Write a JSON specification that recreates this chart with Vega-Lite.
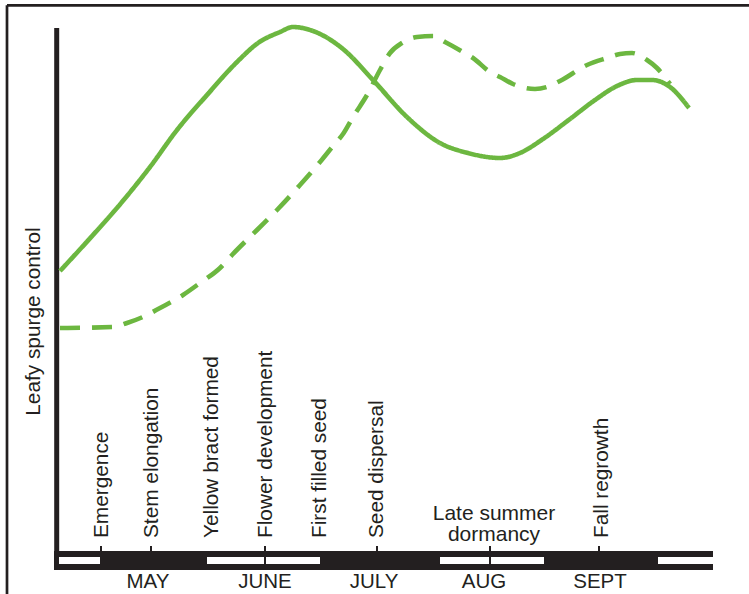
{
  "$schema": "https://vega.github.io/schema/vega-lite/v6.json",
  "width": 749,
  "height": 594,
  "padding": 0,
  "autosize": {"type": "none"},
  "background": "white",
  "config": {"view": {"stroke": null}},
  "datasets": {
    "frame": [
      {"x": 7, "y": 5.3, "x2": 760, "y2": 5.3},
      {"x": 7, "y": 5.3, "x2": 7, "y2": 600}
    ],
    "axisline": [
      {"x": 56.7, "y": 28, "x2": 56.7, "y2": 570}
    ],
    "bandBlack": [
      {"x": 54, "x2": 713, "y": 551, "y2": 570}
    ],
    "bandWhite": [
      {"x": 59, "x2": 101, "y": 557, "y2": 564},
      {"x": 207, "x2": 320, "y": 557, "y2": 564},
      {"x": 440, "x2": 544, "y": 557, "y2": 564},
      {"x": 658, "x2": 725, "y": 557, "y2": 564}
    ],
    "ticks": [
      {"x": 101, "y": 546, "y2": 564},
      {"x": 151, "y": 546, "y2": 564},
      {"x": 265, "y": 546, "y2": 564},
      {"x": 377, "y": 546, "y2": 564},
      {"x": 490, "y": 546, "y2": 564},
      {"x": 599, "y": 546, "y2": 564}
    ],
    "curves": [
      {"curve": "solid", "x": 60, "y": 271},
      {"curve": "solid", "x": 93, "y": 235},
      {"curve": "solid", "x": 122, "y": 202},
      {"curve": "solid", "x": 150, "y": 167},
      {"curve": "solid", "x": 177, "y": 130},
      {"curve": "solid", "x": 207, "y": 95},
      {"curve": "solid", "x": 237, "y": 62},
      {"curve": "solid", "x": 258, "y": 43},
      {"curve": "solid", "x": 280, "y": 32},
      {"curve": "solid", "x": 293, "y": 27},
      {"curve": "solid", "x": 313, "y": 31},
      {"curve": "solid", "x": 343, "y": 49},
      {"curve": "solid", "x": 373, "y": 80},
      {"curve": "solid", "x": 408, "y": 118},
      {"curve": "solid", "x": 440, "y": 143},
      {"curve": "solid", "x": 468, "y": 153},
      {"curve": "solid", "x": 500, "y": 158},
      {"curve": "solid", "x": 520, "y": 153},
      {"curve": "solid", "x": 543, "y": 139},
      {"curve": "solid", "x": 570, "y": 119},
      {"curve": "solid", "x": 595, "y": 100},
      {"curve": "solid", "x": 617, "y": 86},
      {"curve": "solid", "x": 637, "y": 80},
      {"curve": "solid", "x": 652, "y": 80},
      {"curve": "solid", "x": 670, "y": 87},
      {"curve": "solid", "x": 689, "y": 108},
      {"curve": "dashed", "x": 60, "y": 328},
      {"curve": "dashed", "x": 113, "y": 327},
      {"curve": "dashed", "x": 127, "y": 323},
      {"curve": "dashed", "x": 145, "y": 316},
      {"curve": "dashed", "x": 160, "y": 308},
      {"curve": "dashed", "x": 183, "y": 295},
      {"curve": "dashed", "x": 200, "y": 283},
      {"curve": "dashed", "x": 220, "y": 268},
      {"curve": "dashed", "x": 232, "y": 255},
      {"curve": "dashed", "x": 257, "y": 230},
      {"curve": "dashed", "x": 277, "y": 210},
      {"curve": "dashed", "x": 300, "y": 185},
      {"curve": "dashed", "x": 320, "y": 162},
      {"curve": "dashed", "x": 333, "y": 146},
      {"curve": "dashed", "x": 343, "y": 134},
      {"curve": "dashed", "x": 353, "y": 117},
      {"curve": "dashed", "x": 367, "y": 95},
      {"curve": "dashed", "x": 380, "y": 70},
      {"curve": "dashed", "x": 390, "y": 53},
      {"curve": "dashed", "x": 402, "y": 43},
      {"curve": "dashed", "x": 417, "y": 37},
      {"curve": "dashed", "x": 433, "y": 36},
      {"curve": "dashed", "x": 445, "y": 42},
      {"curve": "dashed", "x": 463, "y": 52},
      {"curve": "dashed", "x": 473, "y": 58},
      {"curve": "dashed", "x": 490, "y": 72},
      {"curve": "dashed", "x": 500, "y": 77},
      {"curve": "dashed", "x": 513, "y": 84},
      {"curve": "dashed", "x": 535, "y": 89},
      {"curve": "dashed", "x": 547, "y": 87},
      {"curve": "dashed", "x": 560, "y": 81},
      {"curve": "dashed", "x": 587, "y": 65},
      {"curve": "dashed", "x": 607, "y": 58},
      {"curve": "dashed", "x": 620, "y": 54},
      {"curve": "dashed", "x": 632, "y": 53},
      {"curve": "dashed", "x": 647, "y": 60},
      {"curve": "dashed", "x": 657, "y": 68},
      {"curve": "dashed", "x": 670, "y": 84}
    ],
    "stages": [
      {"label": "Emergence", "x": 102, "y": 538},
      {"label": "Stem elongation", "x": 152, "y": 538},
      {"label": "Yellow bract formed", "x": 212, "y": 538},
      {"label": "Flower development", "x": 266, "y": 538},
      {"label": "First filled seed", "x": 320, "y": 538},
      {"label": "Seed dispersal", "x": 377, "y": 538},
      {"label": "Fall regrowth", "x": 602, "y": 538}
    ],
    "dormancy": [
      {"label": "Late summer\ndormancy", "x": 494, "y": 520}
    ],
    "months": [
      {"label": "MAY", "x": 148, "y": 588},
      {"label": "JUNE", "x": 265, "y": 588},
      {"label": "JULY", "x": 374, "y": 588},
      {"label": "AUG", "x": 484, "y": 588},
      {"label": "SEPT", "x": 600, "y": 588}
    ],
    "ytitle": [
      {"label": "Leafy spurge control", "x": 34, "y": 321.5}
    ]
  },
  "layer": [
    {
      "data": {"name": "frame"},
      "mark": {"type": "rule", "color": "#231f20", "strokeWidth": 2.7},
      "encoding": {
        "x": {"field": "x", "type": "quantitative", "scale": {"domain": [0, 749], "nice": false, "zero": false}, "axis": null},
        "y": {"field": "y", "type": "quantitative", "scale": {"domain": [0, 594], "reverse": true, "nice": false, "zero": false}, "axis": null},
        "x2": {"field": "x2"},
        "y2": {"field": "y2"}
      }
    },
    {
      "data": {"name": "axisline"},
      "mark": {"type": "rule", "color": "#231f20", "strokeWidth": 5},
      "encoding": {
        "x": {"field": "x", "type": "quantitative", "axis": null},
        "y": {"field": "y", "type": "quantitative", "axis": null},
        "x2": {"field": "x2"},
        "y2": {"field": "y2"}
      }
    },
    {
      "data": {"name": "bandBlack"},
      "mark": {"type": "rect", "color": "#231f20"},
      "encoding": {
        "x": {"field": "x", "type": "quantitative", "axis": null},
        "x2": {"field": "x2"},
        "y": {"field": "y", "type": "quantitative", "axis": null},
        "y2": {"field": "y2"}
      }
    },
    {
      "data": {"name": "bandWhite"},
      "mark": {"type": "rect", "color": "white"},
      "encoding": {
        "x": {"field": "x", "type": "quantitative", "axis": null},
        "x2": {"field": "x2"},
        "y": {"field": "y", "type": "quantitative", "axis": null},
        "y2": {"field": "y2"}
      }
    },
    {
      "data": {"name": "ticks"},
      "mark": {"type": "rule", "color": "#231f20", "strokeWidth": 2},
      "encoding": {
        "x": {"field": "x", "type": "quantitative", "axis": null},
        "y": {"field": "y", "type": "quantitative", "axis": null},
        "y2": {"field": "y2"}
      }
    },
    {
      "data": {"name": "curves"},
      "mark": {"type": "line", "color": "#6cb740", "strokeWidth": 4.6, "interpolate": "monotone", "strokeCap": "butt", "strokeJoin": "round"},
      "encoding": {
        "x": {"field": "x", "type": "quantitative", "axis": null},
        "y": {"field": "y", "type": "quantitative", "axis": null},
        "strokeDash": {"field": "curve", "type": "nominal", "scale": {"domain": ["solid", "dashed"], "range": [[1, 0], [20, 12]]}, "legend": null}
      }
    },
    {
      "data": {"name": "stages"},
      "mark": {"type": "text", "angle": 270, "align": "left", "baseline": "middle", "font": "Liberation Sans", "fontSize": 20.8, "color": "#231f20"},
      "encoding": {
        "x": {"field": "x", "type": "quantitative", "axis": null},
        "y": {"field": "y", "type": "quantitative", "axis": null},
        "text": {"field": "label"}
      }
    },
    {
      "data": {"name": "dormancy"},
      "mark": {"type": "text", "align": "center", "baseline": "alphabetic", "lineBreak": "\n", "lineHeight": 21, "font": "Liberation Sans", "fontSize": 21, "color": "#231f20"},
      "encoding": {
        "x": {"field": "x", "type": "quantitative", "axis": null},
        "y": {"field": "y", "type": "quantitative", "axis": null},
        "text": {"field": "label"}
      }
    },
    {
      "data": {"name": "months"},
      "mark": {"type": "text", "align": "center", "baseline": "alphabetic", "font": "Liberation Sans", "fontSize": 20.5, "color": "#231f20"},
      "encoding": {
        "x": {"field": "x", "type": "quantitative", "axis": null},
        "y": {"field": "y", "type": "quantitative", "axis": null},
        "text": {"field": "label"}
      }
    },
    {
      "data": {"name": "ytitle"},
      "mark": {"type": "text", "angle": 270, "align": "center", "baseline": "middle", "font": "Liberation Sans", "fontSize": 20.8, "color": "#231f20"},
      "encoding": {
        "x": {"field": "x", "type": "quantitative", "axis": null},
        "y": {"field": "y", "type": "quantitative", "axis": null},
        "text": {"field": "label"}
      }
    }
  ]
}
